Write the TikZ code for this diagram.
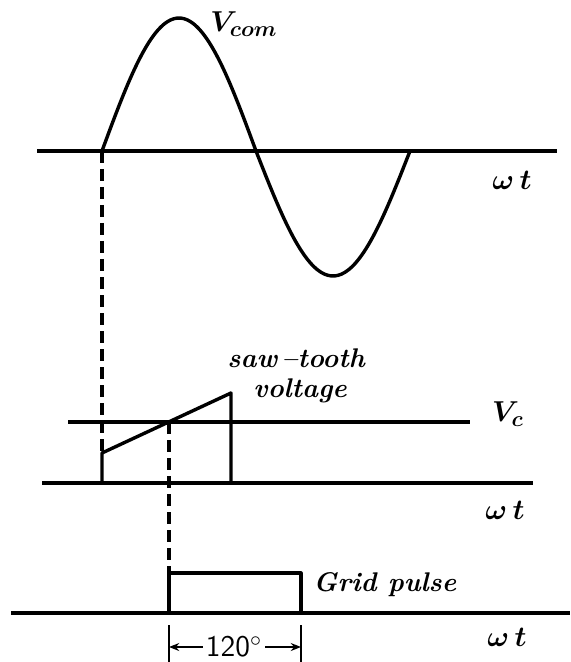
\documentclass[tikz,border=0pt]{standalone}
\usetikzlibrary{arrows.meta,positioning,calc}
\tikzset{
  axis/.style={line width=1.8pt},
  wave/.style={line width=1.7pt, line join=round},
  dsh/.style={line width=1.6pt, dash pattern=on 6pt off 3pt},
  lbl/.style={font={\fontsize{13.5}{14}\selectfont\bfseries\itshape}, inner sep=0pt},
  mlbl/.style={font={\fontsize{15}{15}\selectfont\boldmath}, inner sep=0pt},
  dimarr/.style={-{Stealth[length=1.8mm, width=1.4mm]}, line width=1pt},
}
\begin{document}
\begin{tikzpicture}[x=0.5pt, y=-0.5pt]
\useasboundingbox (0,0) rectangle (570,662);

% commutating voltage
\draw[axis] (37,151) -- (557,151);
\coordinate (z1) at (102,151);
\draw[wave] plot[domain=0:180, samples=46, smooth]
  ({102+\x/180*154}, {151-133*sin(\x)})
  -- plot[domain=180:360, samples=46, smooth]
  ({102+\x/180*154}, {151-125*sin(\x)});
\node[mlbl] (vcom) at (244,24) {$V_{com}$};
\node[mlbl] (wt1) at (512,180) {$\omega\,t$};

% saw-tooth and control level
\coordinate (s0) at (102,483);
\coordinate (s1) at (102,453);
\coordinate (s2) at (231,393);
\coordinate (s3) at (231,483);
\coordinate (x1) at (169,422);
\draw[axis] (68,422) -- (470,422);
\draw[axis] (42,483) -- (533,483);
\draw[wave] (s0) -- (s1) -- (s2) -- (s3);
\draw[dsh] (z1) -- (s1);
\node[lbl, anchor=west] (saw) at (227,358) {saw\,--tooth};
\node[lbl, anchor=west] (volt) at (253,391) {voltage};
\node[mlbl] (vc) at (508,414) {$V_c$};
\node[mlbl] (wt2) at (505,510) {$\omega\,t$};

% grid pulse
\coordinate (p0) at (169,613);
\coordinate (p1) at (169,573);
\coordinate (p2) at (301,573);
\coordinate (p3) at (301,613);
\draw[dsh] (x1) -- (p1);
\draw[wave, line width=1.6pt] (p0) -- (p1) -- (p2) -- (p3);
\draw[axis] (11,613) -- (570,613);
\node[lbl, anchor=west] (grid) at (313,585) {Grid pulse};
\node[mlbl] (wt3) at (507,637) {$\omega\,t$};

% 120 degree span
\draw[line width=1.2pt] (169,625) coordinate (d0) -- (169,662);
\draw[line width=1.2pt] (301,625) coordinate (d1) -- (301,662);
\node[font={\fontsize{15}{15}\selectfont\sffamily}, inner sep=1.5pt] (deg) at (234,647) {120$^\circ$};
\draw[dimarr] (deg.west) -- (169,647);
\draw[dimarr] (deg.east) -- (301,647);

\end{tikzpicture}
\end{document}
